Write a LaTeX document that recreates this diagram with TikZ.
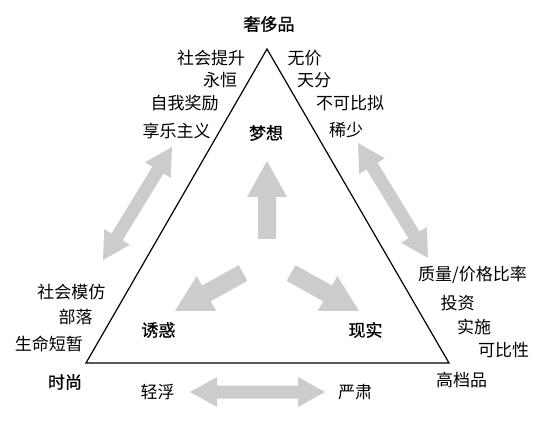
\documentclass[tikz,border=0pt]{standalone}
\usepackage{fontspec}
\setmainfont{Noto Sans CJK SC}
\newfontfamily\keyfont{Noto Sans CJK SC}[FakeBold=0.8]
\usetikzlibrary{calc}
\newcommand\fatarrow[5]{% start, tip, half shaft, half head, head length
  \coordinate (hb) at ($(#2)!#5!(#1)$);
  \fill[arrowfill] ($(#1)!#3!90:(#2)$) -- ($(hb)!#3!90:(#2)$) -- ($(hb)!#4!90:(#2)$) -- (#2)
    -- ($(hb)!#4!-90:(#2)$) -- ($(hb)!#3!-90:(#2)$) -- ($(#1)!#3!-90:(#2)$) -- cycle;}
\newcommand\fatdarrow[5]{% tip A, tip B, half shaft, half head, head length
  \coordinate (ha) at ($(#1)!#5!(#2)$);
  \coordinate (hbb) at ($(#2)!#5!(#1)$);
  \fill[arrowfill] (#1) -- ($(ha)!#4!90:(#2)$) -- ($(ha)!#3!90:(#2)$) -- ($(hbb)!#3!90:(#2)$)
    -- ($(hbb)!#4!90:(#2)$) -- (#2) -- ($(hbb)!#4!-90:(#2)$) -- ($(hbb)!#3!-90:(#2)$)
    -- ($(ha)!#3!-90:(#2)$) -- ($(ha)!#4!-90:(#2)$) -- cycle;}
\begin{document}
\begin{tikzpicture}[x=1pt,y=-1pt,
  lbl/.style={font=\fontsize{17}{17}\selectfont, inner sep=0pt},
  key/.style={font=\fontsize{17}{17}\selectfont\keyfont, inner sep=0pt},
  arrowfill/.style={fill=black!20}]
\useasboundingbox (0,0) rectangle (544,422);
% triangle
\coordinate (top) at (267,49);
\coordinate (bl) at (86,363);
\coordinate (br) at (449,363);
\draw[line width=1.2pt, line join=miter] (top) -- (bl) -- (br) -- cycle;
% central arrows
\coordinate (ua0) at (267,239); \coordinate (ua1) at (267,161);
\coordinate (la0) at (243,273); \coordinate (la1) at (175,311);
\coordinate (ra0) at (291,273); \coordinate (ra1) at (359,311);
\fatarrow{ua0}{ua1}{9pt}{20pt}{36pt}
\fatarrow{la0}{la1}{9pt}{20pt}{36pt}
\fatarrow{ra0}{ra1}{9pt}{20pt}{36pt}
% double arrows
\coordinate (ld0) at (103,260); \coordinate (ld1) at (172,147);
\coordinate (rd0) at (358,143); \coordinate (rd1) at (428,258);
\coordinate (bd0) at (190,392); \coordinate (bd1) at (325,392);
\fatdarrow{ld0}{ld1}{6.5pt}{15pt}{27pt}
\fatdarrow{rd0}{rd1}{6.5pt}{15pt}{27pt}
\fatdarrow{bd0}{bd1}{6.5pt}{15pt}{27pt}
% labels
\node[key] (lux) at (269,24) {奢侈品};
\node[lbl] (t1) at (211,58) {社会提升};
\node[lbl] (t2) at (220,80) {永恒};
\node[lbl] (t3) at (184.5,103) {自我奖励};
\node[lbl] (t4) at (176.5,131) {享乐主义};
\node[lbl] (t5) at (304.5,58) {无价};
\node[lbl] (t6) at (314,80) {天分};
\node[lbl] (t7) at (350,103) {不可比拟};
\node[lbl] (t8) at (346,130) {稀少};
\node[key] (dream) at (266,133) {梦想};
\node[lbl] (f1) at (71.5,292) {社会模仿};
\node[lbl] (f2) at (75.5,317) {部落};
\node[lbl] (f3) at (49,344) {生命短暂};
\node[key] (fashion) at (65,382) {时尚};
\node[key] (tempt) at (158.5,330) {诱惑};
\node[lbl] (b1) at (157.5,392) {轻浮};
\node[lbl] (b2) at (355,392) {严肃};
\node[lbl] (p1) at (472.5,275) {质量/价格比率};
\node[lbl] (p2) at (457.5,303) {投资};
\node[lbl] (p3) at (474,327) {实施};
\node[lbl] (p4) at (503.5,350) {可比性};
\node[lbl] (prem) at (461.5,380) {高档品};
\node[key] (real) at (365.5,330) {现实};
\end{tikzpicture}
\end{document}
